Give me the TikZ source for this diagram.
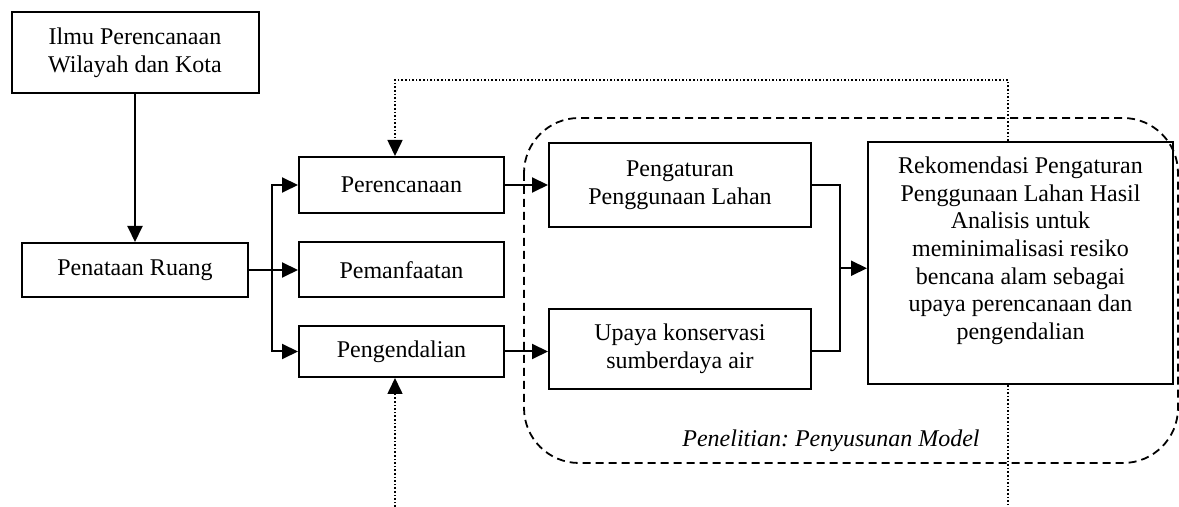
\documentclass[tikz,border=0pt]{standalone}
\usepackage{fontspec}
\setmainfont{Liberation Serif}
\usetikzlibrary{arrows.meta}

\begin{document}
\begin{tikzpicture}[x=0.5pt,y=-0.5pt,>={Triangle[length=8pt,width=7.5pt]},
  font=\fontsize{12}{13.8}\selectfont,
  box/.style={draw,line width=1pt,align=center,inner sep=0pt},
  conn/.style={line width=1pt},
  feed/.style={line width=0.8pt,densely dotted}]
  \useasboundingbox (0,0) rectangle (1179,507);
  % research area
  \draw[line width=0.9pt,dash pattern=on 4pt off 2.5pt,rounded corners=27.5pt]
    (524,118) rectangle (1178,463);
  \node[font=\fontsize{12}{13.8}\selectfont\itshape,anchor=base] (model) at (831,447)
    {Penelitian:\ Penyusunan Model};
  % boxes
  \node[box,minimum width=123.5pt,minimum height=40.5pt] (ilmu) at (135,52.5)
    {Ilmu Perencanaan\\Wilayah dan Kota};
  \node[box,minimum width=113pt,minimum height=27pt] (penataan) at (135,270) {Penataan Ruang};
  \node[box,minimum width=102.5pt,minimum height=28pt] (perencanaan) at (401.5,185) {Perencanaan};
  \node[box,minimum width=102.5pt,minimum height=27.5pt] (pemanfaatan) at (401.5,270) {Pemanfaatan};
  \node[box,minimum width=102.5pt,minimum height=25.5pt] (pengendalian) at (401.5,351.5) {Pengendalian};
  \node[box,minimum width=131pt,minimum height=42pt] (pengaturan) at (680,185)
    {Pengaturan\\Penggunaan Lahan};
  \node[box,minimum width=131pt,minimum height=40pt] (upaya) at (680,349)
    {Upaya konservasi\\sumberdaya air};
  \node[box,minimum width=152.5pt,minimum height=121pt] (rekom) at (1020.5,263)
    {Rekomendasi Pengaturan\\Penggunaan Lahan Hasil\\Analisis untuk\\meminimalisasi resiko\\bencana alam sebagai\\upaya perencanaan dan\\pengendalian\\[1pt]\mbox{}};
  % connectors
  \draw[conn,->] (ilmu) -- (penataan);
  \draw[conn,->] (penataan) -- (pemanfaatan);
  \draw[conn,<->] (perencanaan.west) -- ++(-26,0) |- (pengendalian.west);
  \draw[conn,->] (perencanaan) -- (pengaturan);
  \draw[conn,->] (pengendalian.east) -- (pengendalian.east -| upaya.west);
  \draw[conn] (pengaturan.east) -- ++(28,0) |- coordinate[pos=0.25] (join)
    (upaya.east |- pengendalian.east);
  \draw[conn,->] (join) -- (join -| rekom.west);
  % feedback
  \coordinate (loopR) at (1008,80);
  \coordinate (loopL) at (395,80);
  \coordinate (outR) at (1008,507);
  \coordinate (outL) at (395,507);
  \draw[feed,->] (loopR |- rekom.north) -- (loopR) -- (loopL) -- (loopL |- perencanaan.north);
  \draw[feed] (outR |- rekom.south) -- (outR);
  \draw[feed,->] (outL) -- (outL |- pengendalian.south);
\end{tikzpicture}
\end{document}
